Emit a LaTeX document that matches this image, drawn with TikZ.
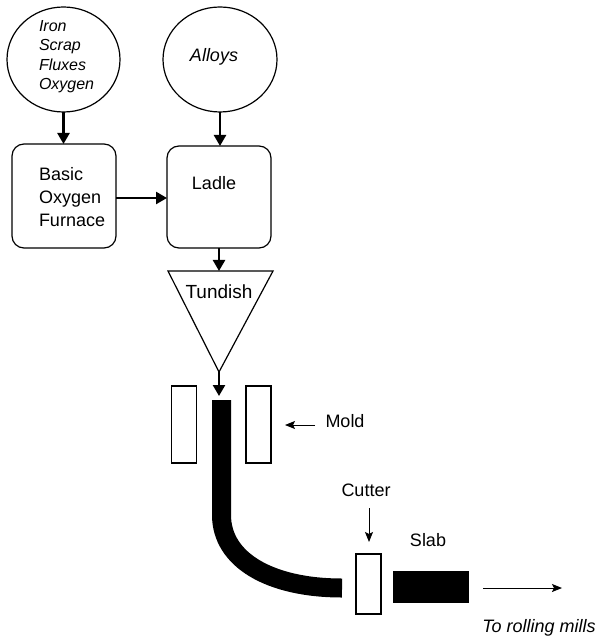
\documentclass[tikz,border=0pt]{standalone}
\usepackage{fontspec}
\setmainfont{Liberation Sans}
\usetikzlibrary{shapes.geometric,arrows.meta}
\begin{document}
\begin{tikzpicture}[x=0.5pt,y=-0.5pt,
  every node/.style={inner sep=0pt, outer sep=0pt},
  outline/.style={draw, line width=0.6pt},
  roundbox/.style={outline, rounded corners=6pt, minimum width=52pt, minimum height=52pt},
  source/.style={outline, ellipse, minimum width=56.5pt, minimum height=52.5pt},
  lbl/.style={font=\fontsize{9}{11.5}\selectfont, align=left},
  ilbl/.style={font=\fontsize{8}{9.7}\selectfont\itshape, align=left},
  heavy/.style={-{Triangle[length=5.5pt,width=6pt]}, line width=1.2pt},
  light/.style={-{Stealth[length=5pt,width=4pt,inset=1pt]}, line width=0.5pt},
  bar/.style={outline, minimum width=12.5pt, minimum height=38.5pt},
  strandline/.style={line width=9.5pt},
]
\useasboundingbox (0,0) rectangle (599,640);

% sources
\node[source] (inputs) at (63.5,59.5) {};
\node[ilbl, anchor=west] (inputstext) at (39,56.5) {Iron\\Scrap\\Fluxes\\Oxygen};
\node[source, minimum width=57pt] (alloys) at (220,59.5) {};
\node[ilbl, font=\fontsize{9}{11}\selectfont\itshape] (alloystext) at (214,57) {Alloys};

% boxes
\node[roundbox] (bof) at (64,196) {};
\node[lbl, anchor=west] (boftext) at (39,197) {Basic\\Oxygen\\Furnace};
\node[roundbox, minimum height=51pt] (ladle) at (219,197) {};
\node[lbl] (ladletext) at (214,183) {Ladle};

\draw[heavy] (inputs.south) -- (inputs.south |- bof.north);
\draw[heavy] (alloys.south) -- (alloys.south |- ladle.north);
\draw[heavy] (bof.east |- 0,198) -- (ladle.west |- 0,198);

% tundish
\coordinate (tunL) at (168,271);
\coordinate (tunR) at (273,271);
\coordinate (tunA) at (219,372);
\coordinate (tunT) at (219,271);
\draw[outline, line join=miter] (tunL) -- (tunR) -- (tunA) -- cycle;
\node[font=\fontsize{9.5}{11}\selectfont] (tundishtext) at (219,292) {Tundish};
\draw[heavy] (ladle.south) -- (tunT);
\coordinate (strandin) at (219,396);
\draw[heavy] (tunA) -- (strandin);

% mold
\node[bar] (moldL) at (184,424.5) {};
\node[bar] (moldR) at (258.5,424.5) {};
\node[lbl] (moldtext) at (345,421) {Mold};
\coordinate (moldA) at (315,425);
\coordinate (moldB) at (285,425);
\draw[light] (moldA) -- (moldB);

% strand
\coordinate (s1) at (221.5,400);
\coordinate (s2) at (221.5,515);
\coordinate (s3) at (342,588);
\draw[strandline] (s1) -- (s2) .. controls (221.5,560) and (270,588) .. (s3);

% cutter
\node[outline, minimum width=12.5pt, minimum height=30pt] (cutter) at (368.5,584) {};
\node[lbl] (cuttertext) at (366,490) {Cutter};
\coordinate (cutA) at (369,508);
\coordinate (cutB) at (369,542);
\draw[light] (cutA) -- (cutB);

% slab
\node[fill=black, minimum width=38pt, minimum height=16pt] (slab) at (431,587) {};
\node[lbl] (slabtext) at (428,540) {Slab};
\coordinate (rollA) at (483,588);
\coordinate (rollB) at (562,588);
\draw[light] (rollA) -- (rollB);
\node[font=\fontsize{9}{11}\selectfont\itshape] (rollingtext) at (539,628) {To rolling mills};
\end{tikzpicture}
\end{document}
